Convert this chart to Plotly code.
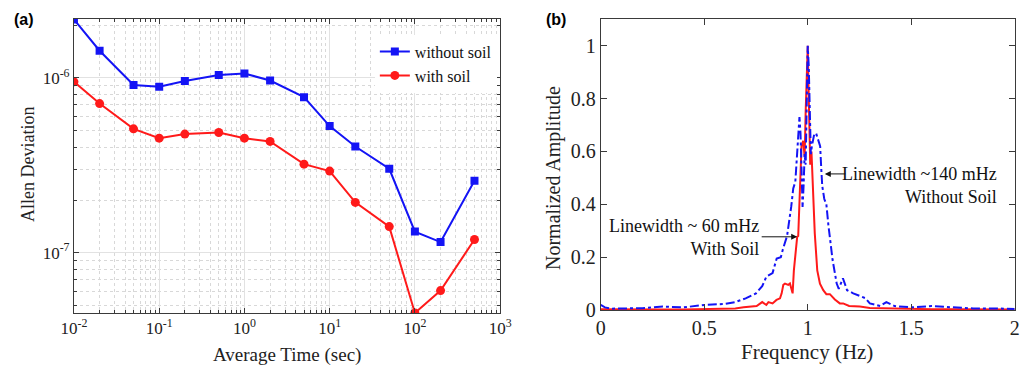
import plotly.graph_objects as go

# ---------------- data ----------------
tau = [0.01, 0.02, 0.05, 0.1, 0.2, 0.5, 1, 2, 5, 10, 20, 50, 100, 200, 500]
adev_without = [2.16e-6, 1.43e-6, 0.91e-6, 0.89e-6, 0.96e-6, 1.04e-6, 1.06e-6, 0.966e-6,
                0.776e-6, 0.53e-6, 0.405e-6, 0.302e-6, 0.132e-6, 0.115e-6, 0.258e-6]
adev_with = [0.949e-6, 0.713e-6, 0.511e-6, 0.452e-6, 0.477e-6, 0.487e-6, 0.452e-6, 0.433e-6,
             0.321e-6, 0.293e-6, 0.194e-6, 0.141e-6, 0.0452e-6, 0.0607e-6, 0.119e-6]

freq_without = [0.0, 0.02, 0.05, 0.1, 0.2, 0.3, 0.4, 0.5, 0.6, 0.65, 0.7, 0.75, 0.78, 0.8, 0.83,
                0.85, 0.87, 0.88, 0.9, 0.92, 0.93, 0.94, 0.95, 0.96, 0.965, 0.97, 0.975, 0.98,
                0.985, 0.99, 0.995, 1.0, 1.005, 1.01, 1.015, 1.02, 1.03, 1.04, 1.05, 1.06, 1.065,
                1.07, 1.08, 1.09, 1.1, 1.12, 1.14, 1.15, 1.17, 1.19, 1.22, 1.25, 1.28, 1.3, 1.35,
                1.38, 1.42, 1.5, 1.6, 1.7, 1.8, 1.9, 2.0]
amp_without = [0.019, 0.01, 0.005, 0.006, 0.007, 0.013, 0.01, 0.019, 0.023, 0.03, 0.044, 0.063,
               0.09, 0.126, 0.14, 0.195, 0.2, 0.23, 0.28, 0.39, 0.46, 0.485, 0.63, 0.73, 0.67,
               0.52, 0.39, 0.47, 0.59, 0.55, 0.79, 1.0, 0.92, 0.73, 0.59, 0.62, 0.66, 0.67, 0.64,
               0.62, 0.54, 0.47, 0.42, 0.4, 0.32, 0.19, 0.1, 0.08, 0.12, 0.075, 0.063, 0.053,
               0.044, 0.025, 0.015, 0.03, 0.015, 0.01, 0.015, 0.01, 0.006, 0.006, 0.004]

freq_with = [0.0, 0.1, 0.2, 0.3, 0.4, 0.5, 0.61, 0.65, 0.69, 0.72, 0.753, 0.78, 0.8, 0.81, 0.83,
             0.849, 0.866, 0.874, 0.882, 0.89, 0.906, 0.914, 0.927, 0.933, 0.943, 0.949, 0.954,
             0.962, 0.97, 0.978, 0.985, 0.99, 0.995, 1.0, 1.005, 1.012, 1.018, 1.026, 1.034,
             1.046, 1.059, 1.075, 1.09, 1.107, 1.131, 1.155, 1.171, 1.2, 1.252, 1.3, 1.4, 1.5,
             1.6, 1.7, 1.8, 1.9, 2.0]
amp_with = [0.003, 0.002, 0.002, 0.002, 0.002, 0.003, 0.005, 0.006, 0.01, 0.012, 0.015, 0.03,
            0.019, 0.03, 0.025, 0.038, 0.044, 0.063, 0.095, 0.1, 0.095, 0.1, 0.063, 0.15, 0.24,
            0.277, 0.28, 0.47, 0.62, 0.64, 0.58, 0.75, 0.85, 1.0, 0.8, 0.55, 0.6, 0.42, 0.29,
            0.15, 0.1, 0.075, 0.06, 0.06, 0.04, 0.025, 0.025, 0.015, 0.013, 0.008, 0.006, 0.004,
            0.003, 0.003, 0.002, 0.002, 0.002]

x_tick_vals_a = [0.01, 0.1, 1, 10, 100, 1000]
x_tick_text_a = ["10<sup>-2</sup>", "10<sup>-1</sup>", "10<sup>0</sup>", "10<sup>1</sup>",
                 "10<sup>2</sup>", "10<sup>3</sup>"]
y_tick_vals_a = [1e-7, 1e-6]
y_tick_text_a = ["10<sup>-7</sup>", "10<sup>-6</sup>"]
x_tick_vals_b = [0, 0.5, 1, 1.5, 2]
x_tick_text_b = ["0", "0.5", "1", "1.5", "2"]
y_tick_vals_b = [0, 0.2, 0.4, 0.6, 0.8, 1]
y_tick_text_b = ["0", "0.2", "0.4", "0.6", "0.8", "1"]

# ---------------- figure ----------------
SERIF = "Liberation Serif"
BLUE = "#1414F5"
RED = "#FF1A1A"
AXC = "#3a3a3a"

fig = go.Figure()
fig.add_trace(go.Scatter(x=tau, y=adev_without, name="without soil", mode="lines+markers",
                         line=dict(color=BLUE, width=2),
                         marker=dict(symbol="square", size=8, color=BLUE),
                         xaxis="x", yaxis="y"))
fig.add_trace(go.Scatter(x=tau, y=adev_with, name="with soil", mode="lines+markers",
                         line=dict(color=RED, width=2),
                         marker=dict(symbol="circle", size=9, color=RED),
                         xaxis="x", yaxis="y"))
fig.add_trace(go.Scatter(x=freq_with, y=amp_with, mode="lines", showlegend=False,
                         line=dict(color=RED, width=2),
                         xaxis="x2", yaxis="y2"))
fig.add_trace(go.Scatter(x=freq_without, y=amp_without, mode="lines", showlegend=False,
                         line=dict(color=BLUE, width=2, dash="dashdot"),
                         xaxis="x2", yaxis="y2"))

common = dict(showline=True, linecolor=AXC, linewidth=1, mirror="ticks", ticks="inside",
              tickcolor=AXC, zeroline=False, automargin=False,
              tickfont=dict(family=SERIF, size=17, color="#222"))
font_b = dict(family=SERIF, size=20, color="#222")

minor_log = dict(dtick="D1", ticks="inside", ticklen=3, tickcolor=AXC, showgrid=True,
                 gridcolor="#d8d8d8", griddash="dot", gridwidth=1)

fig.update_layout(
    width=1027, height=365,
    margin=dict(l=0, r=0, t=0, b=0),
    paper_bgcolor="white", plot_bgcolor="white",
    xaxis=dict(domain=[0.072, 0.487], type="log", range=[-2, 3], anchor="y",
               tickmode="array", tickvals=x_tick_vals_a, ticktext=x_tick_text_a,
               showgrid=True, gridcolor="#e2e2e2", ticklen=5, minor=minor_log, **common),
    yaxis=dict(domain=[0.1425, 0.948], type="log",
               range=[-7.345, -5.663], anchor="x",
               tickmode="array", tickvals=y_tick_vals_a, ticktext=y_tick_text_a,
               showgrid=True, gridcolor="#e2e2e2", ticklen=5, minor=minor_log, **common),
    xaxis2=dict(domain=[0.585, 0.988], range=[0, 2], anchor="y2",
                tickmode="array", tickvals=x_tick_vals_b, ticktext=x_tick_text_b,
                showgrid=False, ticklen=6, **{**common, "tickfont": font_b}),
    yaxis2=dict(domain=[0.1507, 0.947], range=[0, 1.1], anchor="x2",
                tickmode="array", tickvals=y_tick_vals_b, ticktext=y_tick_text_b,
                showgrid=False, ticklen=6, **{**common, "tickfont": font_b}),
    legend=dict(x=0.365, y=0.905, xanchor="left", yanchor="top", bgcolor="white",
                font=dict(family=SERIF, size=16, color="#111"), tracegroupgap=0,
                itemwidth=30),
    showlegend=True,
)

ann = []
# panel labels
ann.append(dict(text="<b>(a)</b>", x=0.012, y=0.975, xref="paper", yref="paper",
                xanchor="left", yanchor="top", showarrow=False,
                font=dict(family="Liberation Sans", size=16, color="black")))
ann.append(dict(text="<b>(b)</b>", x=0.530, y=0.975, xref="paper", yref="paper",
                xanchor="left", yanchor="top", showarrow=False,
                font=dict(family="Liberation Sans", size=16, color="black")))
# axis titles
ann.append(dict(text="Allen Deviation", x=28 / 1027, y=1 - 165 / 365, xref="paper", yref="paper",
                textangle=-90, showarrow=False, xanchor="center", yanchor="middle",
                font=dict(family=SERIF, size=18, color="#222")))
ann.append(dict(text="Average Time (sec)", x=287 / 1027, y=1 - 355 / 365, xref="paper",
                yref="paper", showarrow=False, xanchor="center", yanchor="middle",
                font=dict(family=SERIF, size=19, color="#222")))
ann.append(dict(text="Normalized Amplitude", x=553 / 1027, y=1 - 178 / 365, xref="paper",
                yref="paper", textangle=-90, showarrow=False, xanchor="center",
                yanchor="middle", font=dict(family=SERIF, size=20, color="#222")))
ann.append(dict(text="Frequency (Hz)", x=807 / 1027, y=1 - 352 / 365, xref="paper",
                yref="paper", showarrow=False, xanchor="center", yanchor="middle",
                font=dict(family=SERIF, size=21, color="#222")))
# linewidth annotations
ann.append(dict(text="Linewidth ~140 mHz<br>Without Soil", x=1.925, y=0.473, xref="x2",
                yref="y2", xanchor="right", yanchor="middle", align="right", showarrow=False,
                font=dict(family=SERIF, size=18, color="#111")))
ann.append(dict(text="", x=1.0825, y=0.515, xref="x2", yref="y2", showarrow=True,
                ax=22, ay=0, arrowhead=2, arrowsize=1.2, arrowwidth=1, arrowcolor="#111"))
ann.append(dict(text="Linewidth ~ 60 mHz<br>With Soil", x=0.772, y=0.276, xref="x2",
                yref="y2", xanchor="right", yanchor="middle", align="right", showarrow=False,
                font=dict(family=SERIF, size=18, color="#111")))
ann.append(dict(text="", x=0.949, y=0.277, xref="x2", yref="y2", showarrow=True,
                ax=-37, ay=0, arrowhead=2, arrowsize=1.2, arrowwidth=1, arrowcolor="#111"))
fig.update_layout(annotations=ann)

fig.write_html("out.html", config={"displayModeBar": False},
               post_script="document.body.style.margin='0';document.body.style.overflow='hidden';")
